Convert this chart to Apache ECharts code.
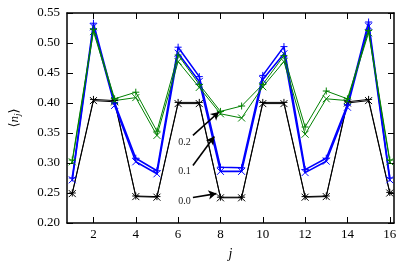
<!DOCTYPE html>
<html>
<head>
<meta charset="utf-8">
<script src="https://cdn.jsdelivr.net/npm/echarts@6/dist/echarts.min.js"></script>
<style>html,body{margin:0;padding:0;background:#fff}#c{width:415px;height:266px}</style>
</head>
<body>
<div id="c"></div>
<script>
const sites = [1,2,3,4,5,6,7,8,9,10,11,12,13,14,15,16];
const xTicks = [2,4,6,8,10,12,14,16];
const blackPlus  = [0.250,0.406,0.404,0.245,0.244,0.401,0.401,0.243,0.243,0.401,0.401,0.244,0.245,0.402,0.406,0.251];
const blackCross = [0.249,0.404,0.402,0.244,0.243,0.399,0.399,0.242,0.242,0.399,0.399,0.243,0.244,0.400,0.404,0.250];
const bluePlus   = [0.275,0.533,0.400,0.308,0.287,0.493,0.444,0.293,0.292,0.446,0.494,0.289,0.308,0.397,0.535,0.275];
const blueCross  = [0.272,0.527,0.396,0.302,0.282,0.483,0.436,0.286,0.286,0.439,0.482,0.284,0.303,0.393,0.528,0.272];
const greenPlus  = [0.305,0.523,0.407,0.418,0.353,0.480,0.431,0.386,0.395,0.431,0.479,0.360,0.420,0.407,0.521,0.305];
const greenCross = [0.302,0.519,0.404,0.409,0.346,0.469,0.426,0.382,0.375,0.427,0.469,0.348,0.407,0.404,0.517,0.302];
const annLabels = ['0.2','0.1','0.0'];
const annText = [[6.30,0.3344],[6.30,0.2864],[6.30,0.2356]];
const annArrows = [[[6.70,0.346],[7.93,0.385]],[[6.70,0.296],[7.71,0.344]],[[6.70,0.2426],[7.81,0.249]]];

const FONT = 'Liberation Serif, DejaVu Serif, serif';
const PLUS = 'path://M5,0L5,10M0,5L10,5';
const CROSS = 'path://M0,0L10,10M10,0L0,10';
const pair = arr => arr.map((v,i)=>[sites[i], v]);

function mk(name, data, color, sym, width){
  return {
    name, type:'line', data: pair(data), symbol: sym, symbolSize: 7,
    showAllSymbol: true, animation:false,
    lineStyle:{color, width},
    itemStyle:{color:'none', borderColor: color, borderWidth: 1},
    emphasis:{disabled:true}
  };
}

const chart = echarts.init(document.getElementById('c'), null, {renderer:'canvas'});
const series = [
  mk('b+', blackPlus, '#000000', PLUS, 1),
  mk('bx', blackCross, '#000000', CROSS, 1),
  mk('u+', bluePlus, '#0000ff', PLUS, 1.6),
  mk('ux', blueCross, '#0000ff', CROSS, 1.6),
  mk('g+', greenPlus, '#008000', PLUS, 1),
  mk('gx', greenCross, '#008000', CROSS, 1)
];
series.push({
  type:'line', data:[], animation:false, silent:true,
  markLine:{
    silent:true, animation:false, symbol:['none','arrow'], symbolSize:[7,8],
    lineStyle:{color:'#000', width:1.6, type:'solid'}, label:{show:false},
    data: annArrows.map(a=>[{coord:a[0]},{coord:a[1]}])
  },
  markPoint:{
    silent:true, animation:false, symbol:'circle', symbolSize:0,
    label:{show:true, position:'inside', color:'#222', fontFamily:FONT, fontSize:10, formatter: p=>p.name},
    data: annText.map((c,i)=>({coord:c, name:annLabels[i], value:0}))
  }
});

const axisLineStyle = {show:true, onZero:false, lineStyle:{color:'#000', width:1.5}};
chart.setOption({
  animation:false,
  grid:{left:62, right:21, top:13, bottom:40, containLabel:false},
  xAxis:[{
    type:'value', min:0.75, max:16.2, position:'bottom',
    axisLine: axisLineStyle,
    axisTick:{show:true, inside:true, length:6, customValues:xTicks, lineStyle:{color:'#000', width:1}},
    axisLabel:{show:true, customValues:xTicks, color:'#000', fontFamily:FONT, fontSize:13, margin:5},
    splitLine:{show:false},
    name:'j', nameLocation:'middle', nameGap:24,
    nameTextStyle:{fontFamily:FONT, fontStyle:'italic', fontSize:14, color:'#000'}
  },{
    type:'value', min:0.75, max:16.2, position:'top',
    axisLine: axisLineStyle,
    axisTick:{show:true, inside:true, length:6, customValues:xTicks, lineStyle:{color:'#000', width:1}},
    axisLabel:{show:false}, splitLine:{show:false}
  }],
  yAxis:[{
    type:'value', min:0.20, max:0.55, interval:0.05, position:'left',
    axisLine: axisLineStyle,
    axisTick:{show:true, inside:true, length:6, lineStyle:{color:'#000', width:1}},
    axisLabel:{color:'#000', fontFamily:FONT, fontSize:13, margin:7, formatter:v=>v.toFixed(2)},
    splitLine:{show:false},
    name:'{a|⟨}{n|n}{s|j}{a|⟩}', nameLocation:'middle', nameGap:45, nameRotate:90,
    nameTextStyle:{fontFamily:FONT, fontSize:13, color:'#000',
      rich:{a:{fontFamily:FONT,fontSize:13,color:'#000'}, n:{fontFamily:FONT,fontStyle:'italic',fontSize:13,color:'#000'}, s:{fontFamily:FONT,fontStyle:'italic',fontSize:9,color:'#000',verticalAlign:'bottom',padding:[6,0,0,0]}}}
  },{
    type:'value', min:0.20, max:0.55, interval:0.05, position:'right',
    axisLine: axisLineStyle,
    axisTick:{show:true, inside:true, length:6, lineStyle:{color:'#000', width:1}},
    axisLabel:{show:false}, splitLine:{show:false}
  }],
  series: series
});
</script>
</body>
</html>
